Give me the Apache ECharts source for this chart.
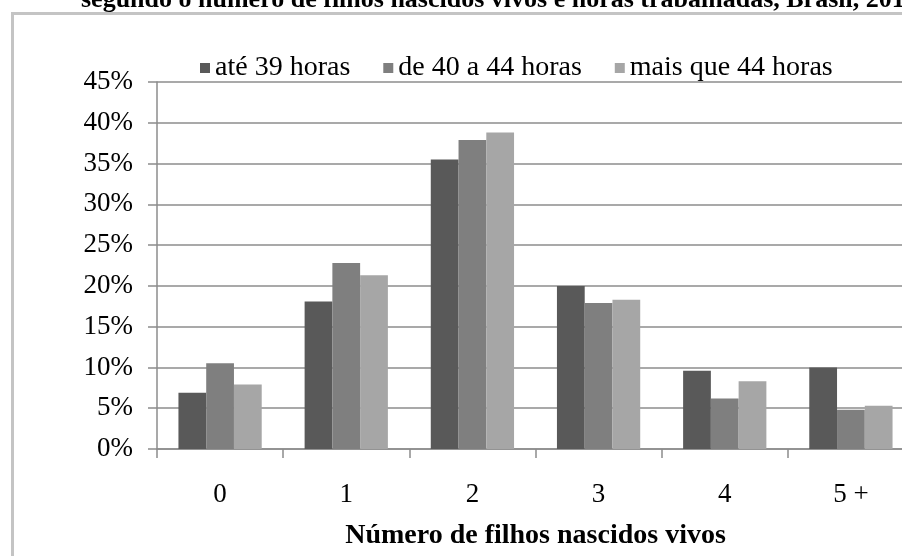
<!DOCTYPE html>
<html>
<head>
<meta charset="utf-8">
<script src="https://cdn.jsdelivr.net/npm/echarts@6/dist/echarts.min.js"></script>
<style>
  html, body { margin: 0; padding: 0; background: #fff; }
  #chart { width: 902px; height: 556px; }
</style>
</head>
<body>
<div id="chart"></div>
<script>
// Número de filhos nascidos vivos, por horas trabalhadas (%)
const categories = ['0', '1', '2', '3', '4', '5 +'];
const seriesNames = ['até 39 horas', 'de 40 a 44 horas', 'mais que 44 horas'];
const ate39 = [6.9, 18.1, 35.5, 20.0, 9.6, 10.0];
const de40a44 = [10.5, 22.8, 37.9, 17.9, 6.2, 4.8];
const mais44 = [7.9, 21.3, 38.8, 18.3, 8.3, 5.3];
const yTicks = [0, 45, 5]; // min, max, interval
const titleText = 'segundo o número de filhos nascidos vivos e horas trabalhadas, Brasil, 2010';

const colors = ['#595959', '#7f7f7f', '#a6a6a6'];
const serif = '"Liberation Serif", "DejaVu Serif", serif';

const chart = echarts.init(document.getElementById('chart'), null, { renderer: 'canvas' });

const values = [ate39, de40a44, mais44];

chart.setOption({
  animation: false,
  backgroundColor: '#ffffff',
  title: {
    text: titleText,
    left: 76,
    top: -18,
    textStyle: { fontFamily: serif, fontSize: 26, fontWeight: 'bold', color: '#000' }
  },
  graphic: [
    { type: 'line', shape: { x1: 12, y1: 13.5, x2: 902, y2: 13.5 }, style: { stroke: '#c4c4c4', lineWidth: 3 } },
    { type: 'line', shape: { x1: 12.5, y1: 12, x2: 12.5, y2: 556 }, style: { stroke: '#c4c4c4', lineWidth: 3 } }
  ],
  legend: {
    data: seriesNames,
    top: 49,
    left: 195,
    itemWidth: 10,
    itemHeight: 10,
    itemGap: 33,
    icon: 'rect',
    textStyle: { fontFamily: serif, fontSize: 28, color: '#000' }
  },
  grid: { left: 157, top: 82, width: 757, height: 367, outerBoundsMode: 'none' },
  xAxis: {
    type: 'category',
    data: categories,
    axisLine: { lineStyle: { color: '#8c8c8c', width: 1.5 } },
    axisTick: { show: true, length: 9, lineStyle: { color: '#8c8c8c', width: 1.5 } },
    axisLabel: { fontFamily: serif, fontSize: 27, color: '#000', margin: 32 },
    name: 'Número de filhos nascidos vivos',
    nameLocation: 'middle',
    nameGap: 73,
    nameTextStyle: { fontFamily: serif, fontSize: 28, fontWeight: 'bold', color: '#000' }
  },
  yAxis: {
    type: 'value',
    min: yTicks[0],
    max: yTicks[1],
    interval: yTicks[2],
    axisLine: { show: true, lineStyle: { color: '#8c8c8c', width: 1.5 } },
    axisTick: { show: true, length: 9, lineStyle: { color: '#8c8c8c', width: 1.5 } },
    splitLine: { lineStyle: { color: '#8c8c8c', width: 1.5 } },
    axisLabel: { fontFamily: serif, fontSize: 27, color: '#000', margin: 24, formatter: '{value}%' }
  },
  series: seriesNames.map((name, i) => ({
    name,
    type: 'bar',
    data: values[i],
    barGap: '0%',
    barCategoryGap: '34%',
    itemStyle: { color: colors[i] }
  }))
});
</script>
</body>
</html>
